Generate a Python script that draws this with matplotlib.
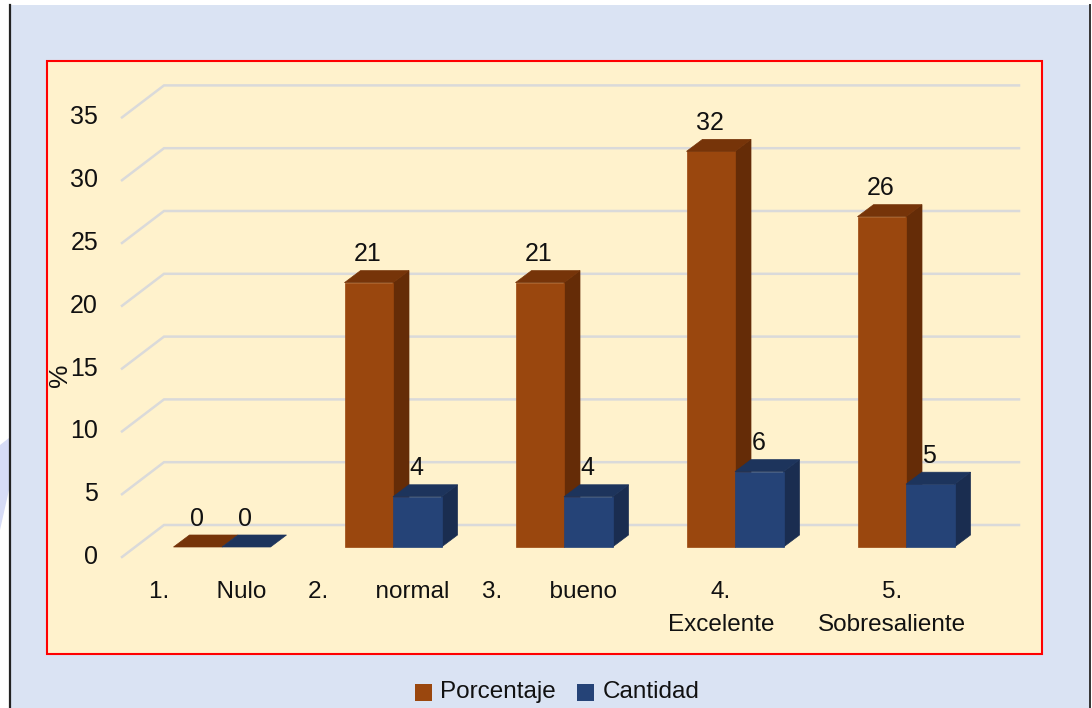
import matplotlib
matplotlib.use("Agg")
import matplotlib.pyplot as plt
from matplotlib.patches import Polygon, Rectangle, Patch

plt.rcParams['font.family'] = ['Liberation Sans', 'DejaVu Sans']

categories = ["1.       Nulo", "2.       normal", "3.       bueno", "4.\nExcelente", "5.\nSobresaliente"]
porcentaje = [0, 21.05, 21.05, 31.5, 26.3]
cantidad = [0, 4, 4, 6, 5]
porcentaje_labels = ["0", "21", "21", "32", "26"]
cantidad_labels = ["0", "4", "4", "6", "5"]
y_ticks = [0, 5, 10, 15, 20, 25, 30, 35]

W, H = 1092, 708
x_unit = 171.0   # px per category
y_unit = 12.56   # px per % unit
x0_px = 393.0 - x_unit   # px of the first group's centre
y0_px = 547.0            # px of the value 0 on the bars' front face
bar_w = 48.5 / x_unit
dep_x = 16 / x_unit      # bar depth
dep_y = 12 / y_unit
text_col = "#111111"

def X(px):
    return (px - x0_px) / x_unit

def Y(py):
    return (y0_px - py) / y_unit

fig = plt.figure(figsize=(W / 100, H / 100), dpi=100, facecolor="white")
ax = fig.add_axes([0, 0, 1, 1])
ax.set_xlim(X(0), X(W))
ax.set_ylim(Y(H), Y(0))
ax.axis("off")

# page background
ax.add_patch(Rectangle((X(9), Y(H)), X(1089) - X(9), Y(5) - Y(H), fc="#DAE3F3", ec="none", zorder=0))
ax.add_patch(Polygon([(X(0), Y(445)), (X(9), Y(438)), (X(9), Y(490)), (X(0), Y(530))], fc="#D6DBF6", ec="none", zorder=0))
ax.plot([X(9.5), X(9.5)], [Y(H), Y(5)], color="#222222", lw=1.6, zorder=1)
ax.plot([X(1089.5), X(1089.5)], [Y(H), Y(5)], color="#333333", lw=1.4, zorder=1)

# chart panel
ax.add_patch(Rectangle((X(46.5), Y(654)), X(1041.5) - X(46.5), Y(61) - Y(654),
                       fc="#FFF2CC", ec="#FF0000", lw=1.5, zorder=1))

# walls
for v in y_ticks:
    yf = v + Y(557)
    yb = v + Y(525)
    ax.plot([X(122), X(164), X(1019)], [yf, yb, yb], color="#DADADA", lw=1.8, zorder=2, solid_joinstyle="miter")
    ax.text(X(98), yf, str(v), ha="right", va="center", fontsize=18, color=text_col, zorder=6)

ax.text(X(60), Y(375), "%", rotation=90, ha="center", va="center", fontsize=19, color=text_col, zorder=6)

def bar3d(x_left, value, front, top, side):
    x_right = x_left + bar_w
    if value > 0:
        ax.add_patch(Polygon([(x_right, 0), (x_right + dep_x, dep_y), (x_right + dep_x, value + dep_y), (x_right, value)],
                             fc=side, ec=side, lw=0.5, zorder=3))
        ax.add_patch(Rectangle((x_left, 0), bar_w, value, fc=front, ec=front, lw=0.5, zorder=4))
    ax.add_patch(Polygon([(x_left, value), (x_left + dep_x, value + dep_y), (x_right + dep_x, value + dep_y), (x_right, value)],
                         fc=top, ec=top, lw=0.5, zorder=4))

label_gap = 4.5 / y_unit
for i in range(len(categories)):
    bar3d(i - bar_w, porcentaje[i], "#9A470E", "#763409", "#652C07")
    bar3d(i, cantidad[i], "#254377", "#1D345C", "#1A2D50")
    ax.text(i - bar_w / 2 - 1 / x_unit, porcentaje[i] + dep_y + label_gap, porcentaje_labels[i],
            ha="center", va="bottom", fontsize=18, color=text_col, zorder=6)
    ax.text(i + bar_w / 2 - 1 / x_unit, cantidad[i] + dep_y + label_gap, cantidad_labels[i],
            ha="center", va="bottom", fontsize=18, color=text_col, zorder=6)
    ax.text(i - 14 / x_unit, Y(581), categories[i], ha="center", va="top", fontsize=17.5, color=text_col,
            linespacing=1.62, zorder=6)

handles = [Patch(fc="#9A470E", ec="none", label="Porcentaje"), Patch(fc="#254377", ec="none", label="Cantidad")]
leg = fig.legend(handles=handles, loc="center", bbox_to_anchor=(557 / W, 1 - 692 / H), ncol=2, frameon=False,
                 fontsize=17.5, handlelength=0.7, handleheight=0.7, handletextpad=0.33, columnspacing=0.9,
                 labelcolor=text_col)
# squares sit a little lower than the text
for p in leg.get_patches():
    p.set_y(p.get_y() - 2)

fig.savefig("out.png", dpi=100)
